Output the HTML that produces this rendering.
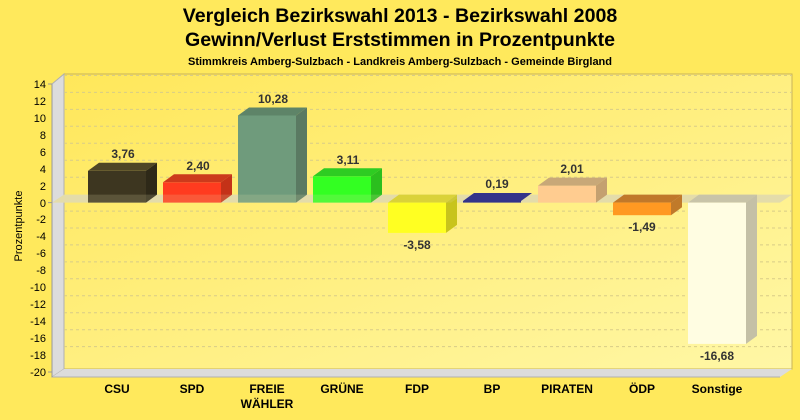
<!DOCTYPE html>
<html><head><meta charset="utf-8"><style>
body{margin:0;background:#ffe95c;}
svg{display:block;font-family:"Liberation Sans",Arial,sans-serif;}
</style></head><body>
<svg width="800" height="420" viewBox="0 0 800 420" xmlns="http://www.w3.org/2000/svg">
<defs>
<linearGradient id="pg" x1="0" y1="0" x2="1" y2="1">
<stop offset="0" stop-color="#ffe75a"/><stop offset="1" stop-color="#fff7a6"/>
</linearGradient>
</defs>
<rect width="800" height="420" fill="#ffe95c"/>
<text x="400" y="22" text-anchor="middle" font-size="19.6" font-weight="bold">Vergleich Bezirkswahl 2013 - Bezirkswahl 2008</text>
<text x="400" y="46" text-anchor="middle" font-size="19.6" font-weight="bold">Gewinn/Verlust Erststimmen in Prozentpunkte</text>
<text x="400" y="65" text-anchor="middle" font-size="11" font-weight="bold">Stimmkreis Amberg-Sulzbach - Landkreis Amberg-Sulzbach - Gemeinde Birgland</text>
<rect x="64" y="74" width="728" height="295" fill="url(#pg)" stroke="#c8b45a" stroke-width="1"/>
<polygon points="52,84 64,74 64,369 52,377" fill="#dcdcdc" stroke="#b0b0b0" stroke-width="1"/>
<polygon points="52,377 64,369 792,369 780,377" fill="#dcdcdc"/>
<line x1="52" y1="377" x2="780" y2="377" stroke="#b0b0b0"/>
<g stroke="#d8cc88" stroke-dasharray="3,3" stroke-width="1">
<line x1="64" y1="75.5" x2="792" y2="75.5"/><line x1="64" y1="92.4" x2="792" y2="92.4"/><line x1="64" y1="109.4" x2="792" y2="109.4"/><line x1="64" y1="126.3" x2="792" y2="126.3"/><line x1="64" y1="143.3" x2="792" y2="143.3"/><line x1="64" y1="160.2" x2="792" y2="160.2"/><line x1="64" y1="177.2" x2="792" y2="177.2"/><line x1="64" y1="211.1" x2="792" y2="211.1"/><line x1="64" y1="228" x2="792" y2="228"/><line x1="64" y1="244.9" x2="792" y2="244.9"/><line x1="64" y1="261.9" x2="792" y2="261.9"/><line x1="64" y1="278.8" x2="792" y2="278.8"/><line x1="64" y1="295.8" x2="792" y2="295.8"/><line x1="64" y1="312.7" x2="792" y2="312.7"/><line x1="64" y1="329.7" x2="792" y2="329.7"/><line x1="64" y1="346.6" x2="792" y2="346.6"/>
</g>
<polygon points="52,202.6 64,194.6 792,194.6 780,202.6" fill="#e4dcaa"/>
<line x1="52" y1="84" x2="52" y2="377" stroke="#999"/>
<g font-size="11" text-anchor="end">
<text x="46" y="88">14</text><text x="46" y="105">12</text><text x="46" y="122">10</text><text x="46" y="139">8</text><text x="46" y="156">6</text><text x="46" y="173">4</text><text x="46" y="190">2</text><text x="46" y="207">0</text><text x="46" y="223">-2</text><text x="46" y="240">-4</text><text x="46" y="257">-6</text><text x="46" y="274">-8</text><text x="46" y="291">-10</text><text x="46" y="308">-12</text><text x="46" y="325">-14</text><text x="46" y="342">-16</text><text x="46" y="359">-18</text><text x="46" y="376">-20</text>
</g>
<g stroke="#999"><line x1="48" y1="84" x2="52" y2="84"/><line x1="48" y1="202.6" x2="52" y2="202.6"/><line x1="48" y1="372" x2="52" y2="372"/></g>
<text transform="translate(22,226) rotate(-90)" text-anchor="middle" font-size="11">Prozentpunkte</text>
<g>
<rect x="88" y="170.8" width="58" height="31.8" fill="#3d3620"/>
<polygon points="88,170.8 99,162.8 157,162.8 146,170.8" fill="#4f4626"/>
<polygon points="146,170.8 157,162.8 157,194.6 146,202.6" fill="#2e2918"/>
<rect x="163" y="182.3" width="58" height="20.3" fill="#ff3b1f"/>
<polygon points="163,182.3 174,174.3 232,174.3 221,182.3" fill="#cc3a1c"/>
<polygon points="221,182.3 232,174.3 232,194.6 221,202.6" fill="#c43218"/>
<rect x="238" y="115.5" width="58" height="87.1" fill="#6f9b7c"/>
<polygon points="238,115.5 249,107.5 307,107.5 296,115.5" fill="#5e8468"/>
<polygon points="296,115.5 307,107.5 307,194.6 296,202.6" fill="#5a7a62"/>
<rect x="313" y="176.3" width="58" height="26.3" fill="#33ff22"/>
<polygon points="313,176.3 324,168.3 382,168.3 371,176.3" fill="#2ecc22"/>
<polygon points="371,176.3 382,168.3 382,194.6 371,202.6" fill="#2bbf1e"/>
<polygon points="388,202.6 399,194.6 457,194.6 446,202.6" fill="#d8d020"/>
<rect x="388" y="202.6" width="58" height="30.3" fill="#ffff22"/>
<polygon points="446,202.6 457,194.6 457,224.9 446,232.9" fill="#c8c41c"/>
<rect x="463" y="201" width="58" height="1.6" fill="#333388"/>
<polygon points="463,201 474,193 532,193 521,201" fill="#34348a"/>
<rect x="538" y="185.6" width="58" height="17" fill="#ffcc90"/>
<polygon points="538,185.6 549,177.6 607,177.6 596,185.6" fill="#c8a878"/>
<polygon points="596,185.6 607,177.6 607,194.6 596,202.6" fill="#c4a070"/>
<polygon points="613,202.6 624,194.6 682,194.6 671,202.6" fill="#c0782a"/>
<rect x="613" y="202.6" width="58" height="12.6" fill="#ff9922"/>
<polygon points="671,202.6 682,194.6 682,207.2 671,215.2" fill="#c07a2a"/>
<polygon points="688,202.6 699,194.6 757,194.6 746,202.6" fill="#c8c4a8"/>
<rect x="688" y="202.6" width="58" height="141.3" fill="#fffde2"/>
<polygon points="746,202.6 757,194.6 757,335.9 746,343.9" fill="#c4c0a6"/>
</g>
<polygon points="52,202.6 64,194.6 463,194.6 451,202.6" fill="#e4dcaa" opacity="0.18"/>
<g font-size="12" font-weight="bold" fill="#333" text-anchor="middle">
<text x="123" y="158">3,76</text><text x="198" y="170">2,40</text><text x="273" y="103">10,28</text><text x="348" y="164">3,11</text><text x="417" y="249">-3,58</text><text x="497" y="188">0,19</text><text x="572" y="173">2,01</text><text x="642" y="231">-1,49</text><text x="717" y="360">-16,68</text>
</g>
<g font-size="12" font-weight="bold" text-anchor="middle">
<text x="117" y="393">CSU</text><text x="192" y="393">SPD</text><text x="267" y="393">FREIE</text><text x="267" y="408">WÄHLER</text><text x="342" y="393">GRÜNE</text><text x="417" y="393">FDP</text><text x="492" y="393">BP</text><text x="567" y="393">PIRATEN</text><text x="642" y="393">ÖDP</text><text x="717" y="393">Sonstige</text>
</g>
</svg>
</body></html>
